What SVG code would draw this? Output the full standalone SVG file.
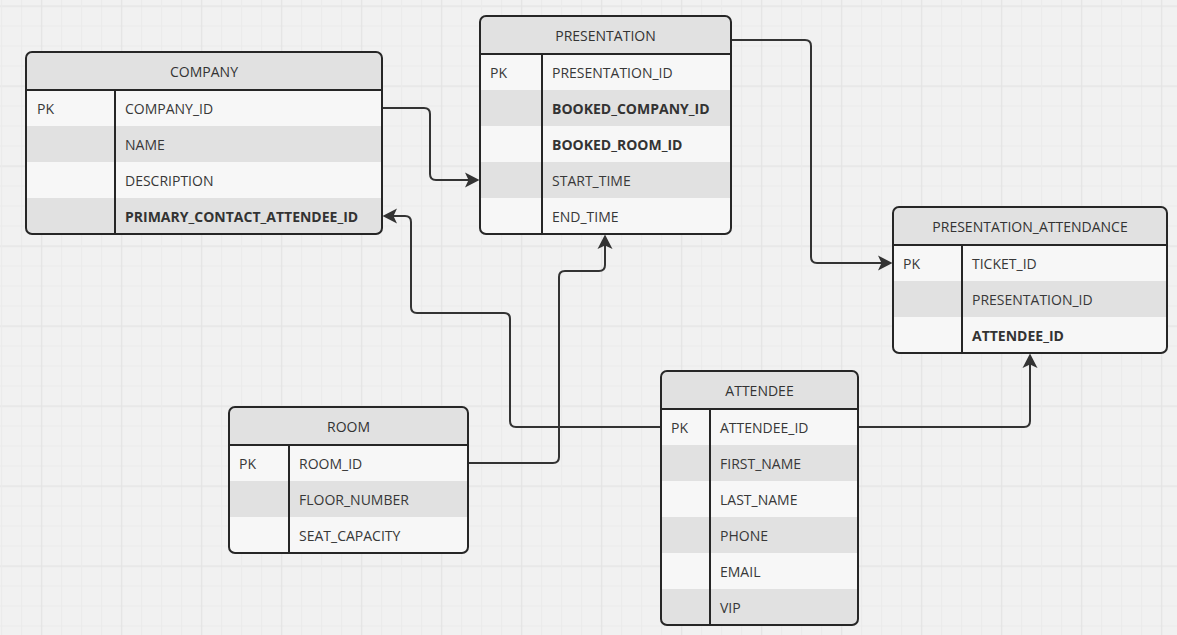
<svg xmlns="http://www.w3.org/2000/svg" width="1177" height="635" viewBox="0 0 1177 635">
  <style>
    .hdr { fill: #e1e1e1; }
    .lt { fill: #f7f7f7; }
    .dk { fill: #e1e1e1; }
    .frame { fill: none; stroke: #262626; stroke-width: 2; }
    .rule { stroke: #262626; stroke-width: 2; }
    text { font-family: "Open Sans", "Liberation Sans", sans-serif; font-size: 14px; fill: #383838; }
    .title { text-anchor: middle; fill: #333333; }
    .b { font-weight: bold; fill: #333333; }
    .conn { fill: none; stroke: #333333; stroke-width: 2; marker-end: url(#arrow); }
  </style>
  <defs>
    <pattern id="grid" patternUnits="userSpaceOnUse" x="1.2" y="5.5" width="80" height="80">
      <path d="M20.5,0V80M60.5,0V80M0,20.5H80M0,40.5H80M0,60.5H80" stroke="#eaeaea" stroke-width="1"/>
      <path d="M40.5,0V80M0,0.5H80" stroke="#e3e3e3" stroke-width="1.3"/>
      <path d="M0.5,0V80" stroke="#eaeaea" stroke-width="1"/>
    </pattern>
    <marker id="arrow" markerUnits="userSpaceOnUse" markerWidth="16" markerHeight="16" viewBox="0 0 16 16" refX="6" refY="8" orient="auto">
      <path d="M0,0.5 L14.5,8 L0,15.5 L3.5,8 Z" fill="#333333"/>
    </marker>
    <clipPath id="c-company"><rect x="26" y="52" width="356" height="182" rx="6"/></clipPath>
    <clipPath id="c-presentation"><rect x="480" y="16" width="251" height="218" rx="6"/></clipPath>
    <clipPath id="c-attendance"><rect x="893" y="207" width="274" height="146" rx="6"/></clipPath>
    <clipPath id="c-room"><rect x="229" y="407" width="239" height="146" rx="6"/></clipPath>
    <clipPath id="c-attendee"><rect x="661" y="371" width="197" height="254" rx="6"/></clipPath>
  </defs>

  <!-- canvas -->
  <rect width="1177" height="635" fill="#f1f1f1"/>
  <rect width="1177" height="635" fill="url(#grid)"/>

  <!-- relationships -->
  <g id="connectors">
    <path class="conn" d="M382,108 H424 Q430,108 430,114 V174 Q430,180 436,180 H471"/>
    <path class="conn" d="M731,40 H805 Q811,40 811,46 V257 Q811,263 817,263 H884"/>
    <path class="conn" d="M661,427 H516 Q510,427 510,421 V319 Q510,313 504,313 H417 Q411,313 411,307 V222 Q411,216 405,216 H391"/>
    <path class="conn" d="M468,463 H553 Q559,463 559,457 V277 Q559,271 565,271 H599 Q605,271 605,265 V243"/>
    <path class="conn" d="M858,427 H1024 Q1030,427 1030,421 V362"/>
  </g>

  <!-- COMPANY -->
  <g id="company">
    <g clip-path="url(#c-company)">
      <rect class="hdr" x="26" y="52" width="356" height="38"/>
      <rect class="lt" x="26" y="90" width="356" height="36"/>
      <rect class="dk" x="26" y="126" width="356" height="36"/>
      <rect class="lt" x="26" y="162" width="356" height="36"/>
      <rect class="dk" x="26" y="198" width="356" height="36"/>
    </g>
    <line class="rule" x1="26" y1="90" x2="382" y2="90"/>
    <line class="rule" x1="115" y1="90" x2="115" y2="234"/>
    <rect class="frame" x="26" y="52" width="356" height="182" rx="6"/>
    <text class="title" x="204" y="77">COMPANY</text>
    <text x="37" y="114">PK</text>
    <text x="125" y="114">COMPANY_ID</text>
    <text x="125" y="150">NAME</text>
    <text x="125" y="186">DESCRIPTION</text>
    <text class="b" x="125" y="222">PRIMARY_CONTACT_ATTENDEE_ID</text>
  </g>

  <!-- PRESENTATION -->
  <g id="presentation">
    <g clip-path="url(#c-presentation)">
      <rect class="hdr" x="480" y="16" width="251" height="38"/>
      <rect class="lt" x="480" y="54" width="251" height="36"/>
      <rect class="dk" x="480" y="90" width="251" height="36"/>
      <rect class="lt" x="480" y="126" width="251" height="36"/>
      <rect class="dk" x="480" y="162" width="251" height="36"/>
      <rect class="lt" x="480" y="198" width="251" height="36"/>
    </g>
    <line class="rule" x1="480" y1="54" x2="731" y2="54"/>
    <line class="rule" x1="542" y1="54" x2="542" y2="234"/>
    <rect class="frame" x="480" y="16" width="251" height="218" rx="6"/>
    <text class="title" x="605.5" y="41">PRESENTATION</text>
    <text x="490" y="78">PK</text>
    <text x="552" y="78">PRESENTATION_ID</text>
    <text class="b" x="552" y="114">BOOKED_COMPANY_ID</text>
    <text class="b" x="552" y="150">BOOKED_ROOM_ID</text>
    <text x="552" y="186">START_TIME</text>
    <text x="552" y="222">END_TIME</text>
  </g>

  <!-- PRESENTATION_ATTENDANCE -->
  <g id="presentation-attendance">
    <g clip-path="url(#c-attendance)">
      <rect class="hdr" x="893" y="207" width="274" height="38"/>
      <rect class="lt" x="893" y="245" width="274" height="36"/>
      <rect class="dk" x="893" y="281" width="274" height="36"/>
      <rect class="lt" x="893" y="317" width="274" height="36"/>
    </g>
    <line class="rule" x1="893" y1="245" x2="1167" y2="245"/>
    <line class="rule" x1="962" y1="245" x2="962" y2="353"/>
    <rect class="frame" x="893" y="207" width="274" height="146" rx="6"/>
    <text class="title" x="1030" y="232">PRESENTATION_ATTENDANCE</text>
    <text x="903" y="269">PK</text>
    <text x="972" y="269">TICKET_ID</text>
    <text x="972" y="305">PRESENTATION_ID</text>
    <text class="b" x="972" y="341">ATTENDEE_ID</text>
  </g>

  <!-- ROOM -->
  <g id="room">
    <g clip-path="url(#c-room)">
      <rect class="hdr" x="229" y="407" width="239" height="38"/>
      <rect class="lt" x="229" y="445" width="239" height="36"/>
      <rect class="dk" x="229" y="481" width="239" height="36"/>
      <rect class="lt" x="229" y="517" width="239" height="36"/>
    </g>
    <line class="rule" x1="229" y1="445" x2="468" y2="445"/>
    <line class="rule" x1="289" y1="445" x2="289" y2="553"/>
    <rect class="frame" x="229" y="407" width="239" height="146" rx="6"/>
    <text class="title" x="348.5" y="432">ROOM</text>
    <text x="239" y="469">PK</text>
    <text x="299" y="469">ROOM_ID</text>
    <text x="299" y="505">FLOOR_NUMBER</text>
    <text x="299" y="541">SEAT_CAPACITY</text>
  </g>

  <!-- ATTENDEE -->
  <g id="attendee">
    <g clip-path="url(#c-attendee)">
      <rect class="hdr" x="661" y="371" width="197" height="38"/>
      <rect class="lt" x="661" y="409" width="197" height="36"/>
      <rect class="dk" x="661" y="445" width="197" height="36"/>
      <rect class="lt" x="661" y="481" width="197" height="36"/>
      <rect class="dk" x="661" y="517" width="197" height="36"/>
      <rect class="lt" x="661" y="553" width="197" height="36"/>
      <rect class="dk" x="661" y="589" width="197" height="36"/>
    </g>
    <line class="rule" x1="661" y1="409" x2="858" y2="409"/>
    <line class="rule" x1="710" y1="409" x2="710" y2="625"/>
    <rect class="frame" x="661" y="371" width="197" height="254" rx="6"/>
    <text class="title" x="759.5" y="396">ATTENDEE</text>
    <text x="671" y="433">PK</text>
    <text x="720" y="433">ATTENDEE_ID</text>
    <text x="720" y="469">FIRST_NAME</text>
    <text x="720" y="505">LAST_NAME</text>
    <text x="720" y="541">PHONE</text>
    <text x="720" y="577">EMAIL</text>
    <text x="720" y="613">VIP</text>
  </g>
</svg>
